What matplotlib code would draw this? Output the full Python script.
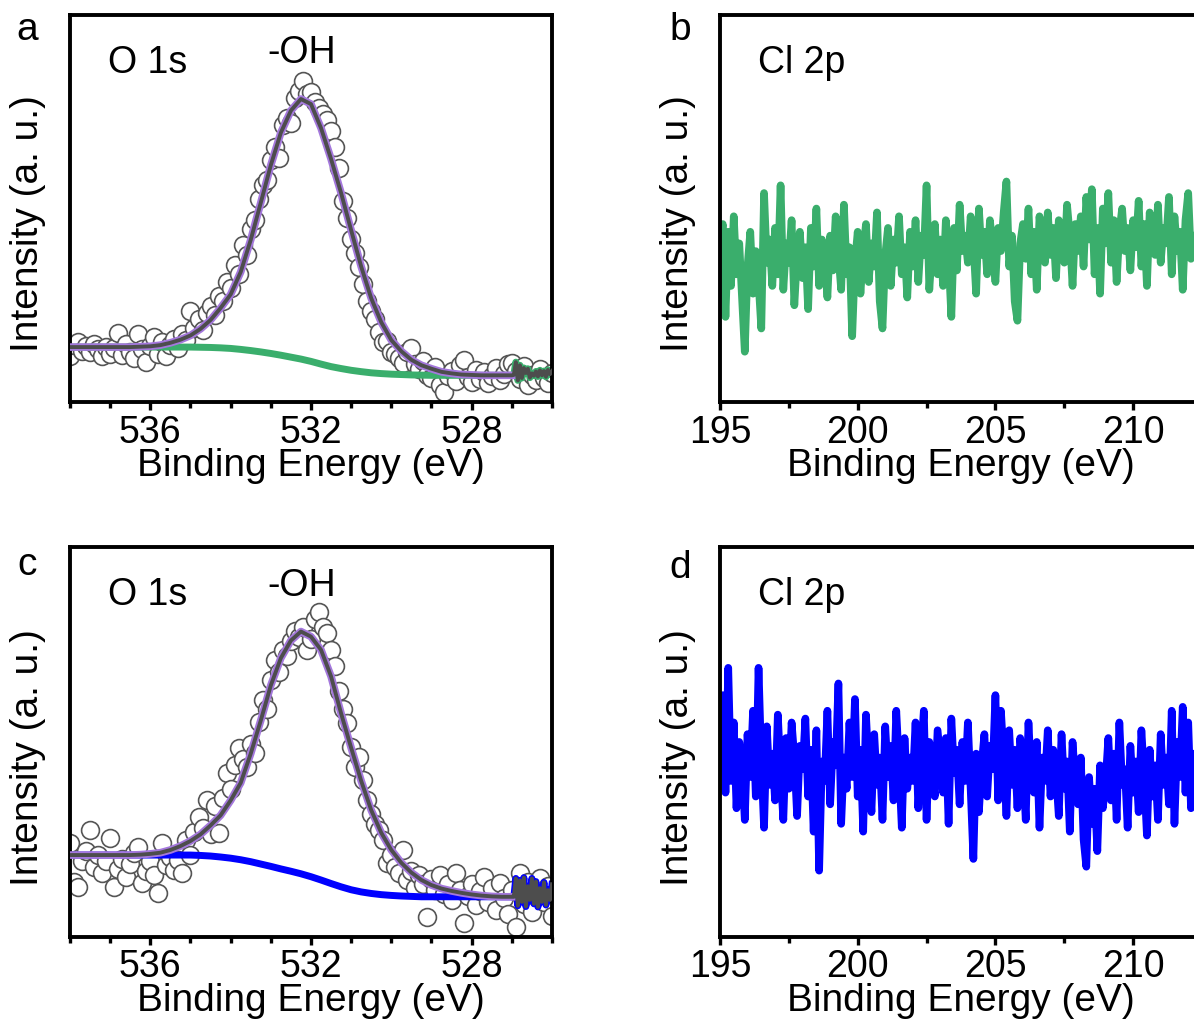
import numpy as np
import matplotlib.pyplot as plt
from matplotlib.ticker import MultipleLocator

plt.rcParams['font.family'] = ['Liberation Sans', 'DejaVu Sans']

# O 1s raw data, 538.0 -> 526.0 eV, 0.1 eV step
be_raw = np.round(np.arange(538.0, 525.95, -0.1), 2)
o1s_a = [12.0, 14.8, 15.6, 13.2, 14.5, 12.8, 14.9, 13.6, 11.8, 14.2,
         12.5, 13.9, 17.9, 12.2, 15.1, 13.0, 11.3, 17.5, 13.8, 10.4,
         14.6, 16.8, 12.4, 15.5, 11.9, 14.8, 16.2, 14.0, 17.5, 15.9,
         23.5, 19.0, 21.5, 18.7, 23.0, 24.8, 22.6, 27.5, 26.0, 31.0,
         29.5, 35.5, 33.0, 40.5, 38.0, 44.8, 47.0, 52.5, 56.0, 57.5,
         62.5, 66.0, 63.0, 71.5, 73.5, 72.0, 78.5, 80.5, 83.0, 79.5,
         80.0, 77.5, 76.0, 74.5, 73.0, 70.0, 66.0, 60.5, 52.0, 47.5,
         42.0, 38.5, 35.0, 30.5, 26.0, 23.5, 21.5, 18.0, 15.5, 15.8,
         13.0, 12.5, 11.5, 10.2, 12.8, 14.0, 9.8, 8.5, 10.5, 7.0,
         6.2, 9.0, 4.5, 2.5, 6.8, 8.0, 5.5, 9.5, 10.8, 6.5,
         5.2, 8.2, 6.0, 7.8, 5.0, 6.6, 8.8, 5.8, 7.2, 9.8,
         10.0, 8.0, 6.0, 9.2, 4.5, 7.0, 5.8, 8.5, 6.2, 5.0,
         7.6]
o1s_c = [24.0, 14.0, 12.8, 19.5, 22.0, 27.3, 18.0, 21.0, 16.4, 19.5,
         25.3, 12.8, 17.5, 20.0, 15.5, 18.8, 21.5, 23.0, 13.8, 17.0,
         19.5, 16.0, 11.3, 24.0, 18.5, 20.5, 17.2, 19.8, 16.4, 24.8,
         21.0, 27.0, 30.8, 28.0, 35.0, 26.5, 33.5, 26.7, 35.5, 42.0,
         38.0, 44.0, 48.5, 45.5, 43.6, 49.5, 47.2, 55.0, 60.8, 58.5,
         66.0, 71.0, 68.0, 73.5, 72.0, 76.0, 78.5, 77.0, 79.5, 73.5,
         76.5, 81.5, 83.3, 79.5, 78.0, 73.5, 69.5, 63.0, 58.5, 54.9,
         48.7, 43.6, 46.2, 40.3, 35.0, 31.5, 29.0, 27.4, 24.9, 19.0,
         21.0, 18.0, 16.5, 22.3, 14.5, 17.0, 12.5, 15.8, 13.5, 5.1,
         14.8, 12.0, 16.0, 11.0, 13.5, 9.5, 16.4, 12.0, 3.6, 10.5,
         13.5, 8.2, 11.8, 15.4, 9.0, 12.5, 7.0, 13.8, 10.0, 6.0,
         12.0, 2.6, 16.4, 8.5, 14.0, 6.5, 11.5, 15.0, 9.0, 13.0,
         5.5]

# fitted -OH peak and Shirley background, 538.0 -> 527.0 eV, 0.25 eV step
be_fit = np.arange(538.0, 526.99, -0.25)
fit_a = [14.2, 14.2, 14.2, 14.2, 14.2, 14.2, 14.2, 14.3, 14.4, 14.7,
         15.3, 16.1, 17.2, 18.9, 21.2, 24.3, 27.8, 33.6, 41.9, 51.5,
         61.2, 69.6, 75.3, 78.3, 77.0, 70.8, 62.8, 54.0, 44.4, 35.0,
         26.8, 20.6, 16.0, 13.1, 10.9, 9.5, 8.6, 7.8, 7.4, 7.1,
         7.0, 6.9, 6.9, 6.9, 6.9]
bg_a = [14.2] * 13 + [14.15, 14.1, 14.0, 13.85, 13.6, 13.3, 12.95, 12.55, 12.1, 11.6, 11.1,
                      10.5, 9.8, 9.15, 8.65, 8.2, 7.85, 7.55, 7.35, 7.2, 7.1,
                      7.0, 6.95] + [6.9] * 9
fit_c = [21.0] * 7 + [21.1, 21.3, 21.6, 22.3, 23.3, 24.6, 26.3, 28.6, 31.2, 35.0,
                      39.5, 47.0, 55.5, 64.5, 71.5, 76.0, 78.3, 77.0, 73.6, 66.8,
                      57.3, 48.5, 40.0, 32.5, 26.7, 22.3, 19.0, 16.5, 14.6, 13.3,
                      12.4, 11.8, 11.3, 10.9, 10.6, 10.4, 10.3, 10.3]
bg_c = [21.0] * 13 + [20.9, 20.75, 20.5, 20.2, 19.8, 19.3, 18.7, 18.1, 17.45, 16.85,
                      16.2, 15.45, 14.6, 13.7, 12.85, 12.1, 11.55, 11.15, 10.85, 10.65,
                      10.5, 10.4, 10.3] + [10.3] * 9

# low binding energy end of the envelope, 526.95 -> 526.0 eV
be_tail = np.round(np.arange(526.95, 525.99, -0.05), 2)
tail_a = [7.0, 10.3, 5.6, 9.5, 6.2, 8.8, 7.5, 8.6, 6.3, 7.4,
          6.8, 7.9, 6.6, 8.2, 6.9, 8.0, 6.5, 8.3, 7.2, 8.0]
tail_c = [10.3, 15.0, 8.0, 14.5, 9.0, 15.2, 7.8, 13.0, 9.5, 15.0,
          8.5, 14.2, 7.7, 12.5, 9.0, 14.0, 8.2, 12.0, 9.5, 13.5]

# Cl 2p, 195.0 -> 212.5 eV, 0.1 eV step
be_cl = np.round(np.arange(195.0, 212.55, 0.1), 2)
cl_b = [40, 46, 22, 44, 30, 48, 33, 41, 27, 13,
        35, 44, 28, 39, 31, 19, 54, 36, 42, 30,
        45, 33, 56, 29, 41, 36, 47, 25, 38, 44,
        32, 40, 24, 45, 35, 50, 30, 42, 37, 27,
        43, 34, 48, 38, 29, 51, 33, 40, 17, 36,
        44, 28, 39, 46, 31, 41, 35, 49, 26, 19,
        38, 45, 30, 42, 36, 48, 33, 40, 27, 44,
        35, 47, 31, 43, 38, 56, 29, 40, 46, 33,
        42, 30, 47, 37, 22, 45, 34, 51, 39, 43,
        36, 48, 41, 28, 50, 38, 44, 33, 47, 40,
        31, 45, 39, 49, 57, 35, 43, 26, 21, 41,
        46, 37, 50, 33, 44, 29, 48, 40, 36, 49,
        38, 45, 32, 47, 41, 36, 51, 43, 30, 46,
        39, 48, 35, 53, 42, 55, 33, 45, 28, 50,
        41, 54, 36, 47, 31, 44, 50, 39, 45, 34,
        47, 40, 52, 35, 46, 30, 49, 42, 38, 51,
        36, 45, 41, 53, 33, 48, 39, 44, 29, 47,
        54, 37, 43, 31, 46, 40]
cl_d = [48, 62, 37, 69, 40, 55, 33, 50, 44, 30,
        52, 41, 58, 36, 69, 45, 28, 54, 39, 47,
        35, 57, 42, 30, 51, 38, 55, 46, 31, 49,
        43, 56, 36, 48, 27, 53, 17, 45, 40, 58,
        34, 50, 44, 65, 29, 46, 38, 55, 41, 61,
        36, 48, 27, 57, 43, 32, 52, 39, 46, 30,
        54, 41, 49, 35, 58, 44, 28, 51, 38, 46,
        40, 55, 33, 47, 58, 30, 50, 42, 36, 53,
        45, 37, 51, 29, 56, 42, 48, 34, 50, 40,
        55, 38, 20, 47, 32, 44, 52, 36, 49, 43,
        62, 35, 58, 46, 31, 53, 39, 48, 33, 51,
        44, 30, 55, 41, 37, 50, 28, 46, 40, 53,
        36, 48, 42, 31, 52, 38, 45, 27, 50, 40,
        34, 46, 25, 18, 41, 29, 38, 22, 44, 33,
        40, 51, 35, 47, 30, 55, 39, 43, 28, 49,
        37, 45, 32, 53, 41, 26, 48, 36, 44, 30,
        52, 39, 46, 34, 58, 29, 50, 41, 59, 37,
        55, 33, 47, 40, 52, 36]

green = '#3aae6c'
blue = '#0000ff'
purple = '#a478dc'
dark = '#4d4d4d'

fig = plt.figure(figsize=(11.94, 10.24), dpi=100)
ax_a = fig.add_axes([0.0586, 0.6074, 0.4037, 0.3779])
ax_c = fig.add_axes([0.0586, 0.0850, 0.4037, 0.3809])
ax_b = fig.add_axes([0.6030, 0.6074, 0.4037, 0.3779])
ax_d = fig.add_axes([0.6030, 0.0850, 0.4037, 0.3809])


def style(ax):
    for s in ax.spines.values():
        s.set_linewidth(2.8)
    ax.set_yticks([])
    ax.tick_params(axis='x', which='major', direction='out', length=6, width=2.4,
                   labelsize=27, pad=3, top=False)
    ax.tick_params(axis='x', which='minor', direction='out', length=4, width=2.4, top=False)
    ax.set_ylim(0, 100)
    ax.set_xlabel('Binding Energy (eV)', fontsize=28, labelpad=-2)
    ax.set_ylabel('Intensity (a. u.)', fontsize=28)
    ax.yaxis.set_label_coords(-0.05, 0.46)


for ax, raw, fit, bg, tail, col in [(ax_a, o1s_a, fit_a, bg_a, tail_a, green),
                                     (ax_c, o1s_c, fit_c, bg_c, tail_c, blue)]:
    ax.scatter(be_raw, raw, s=165, facecolor='white', edgecolor='#555555',
               linewidth=1.2, zorder=1)
    ax.plot(np.concatenate([be_fit, be_tail]), bg + tail, color=col, lw=5, zorder=2)
    ax.plot(be_fit, fit, color=purple, lw=5.5, zorder=3)
    ax.plot(np.concatenate([be_fit, be_tail]), fit + tail, color=dark, lw=2.8, zorder=4)
    ax.set_xlim(538, 526)
    ax.xaxis.set_major_locator(MultipleLocator(4))
    ax.xaxis.set_minor_locator(MultipleLocator(1))
    style(ax)
    ax.text(0.079, 0.85, 'O 1s', transform=ax.transAxes, fontsize=27)
    ax.text(0.48, 0.875, '-OH', transform=ax.transAxes, fontsize=27, ha='center')

for ax, y, col in [(ax_b, cl_b, green), (ax_d, cl_d, blue)]:
    ax.plot(be_cl, y, color=col, lw=5.5)
    ax.set_xlim(195, 212.5)
    ax.xaxis.set_major_locator(MultipleLocator(5))
    ax.xaxis.set_minor_locator(MultipleLocator(2.5))
    style(ax)
    ax.text(0.079, 0.85, 'Cl 2p', transform=ax.transAxes, fontsize=27)

for lab, x, y in [('a', 0.0226, 0.961), ('b', 0.5695, 0.961),
                  ('c', 0.0226, 0.438), ('d', 0.5695, 0.436)]:
    fig.text(x, y, lab, fontsize=28, ha='center')

fig.savefig('out.png', dpi=100)
